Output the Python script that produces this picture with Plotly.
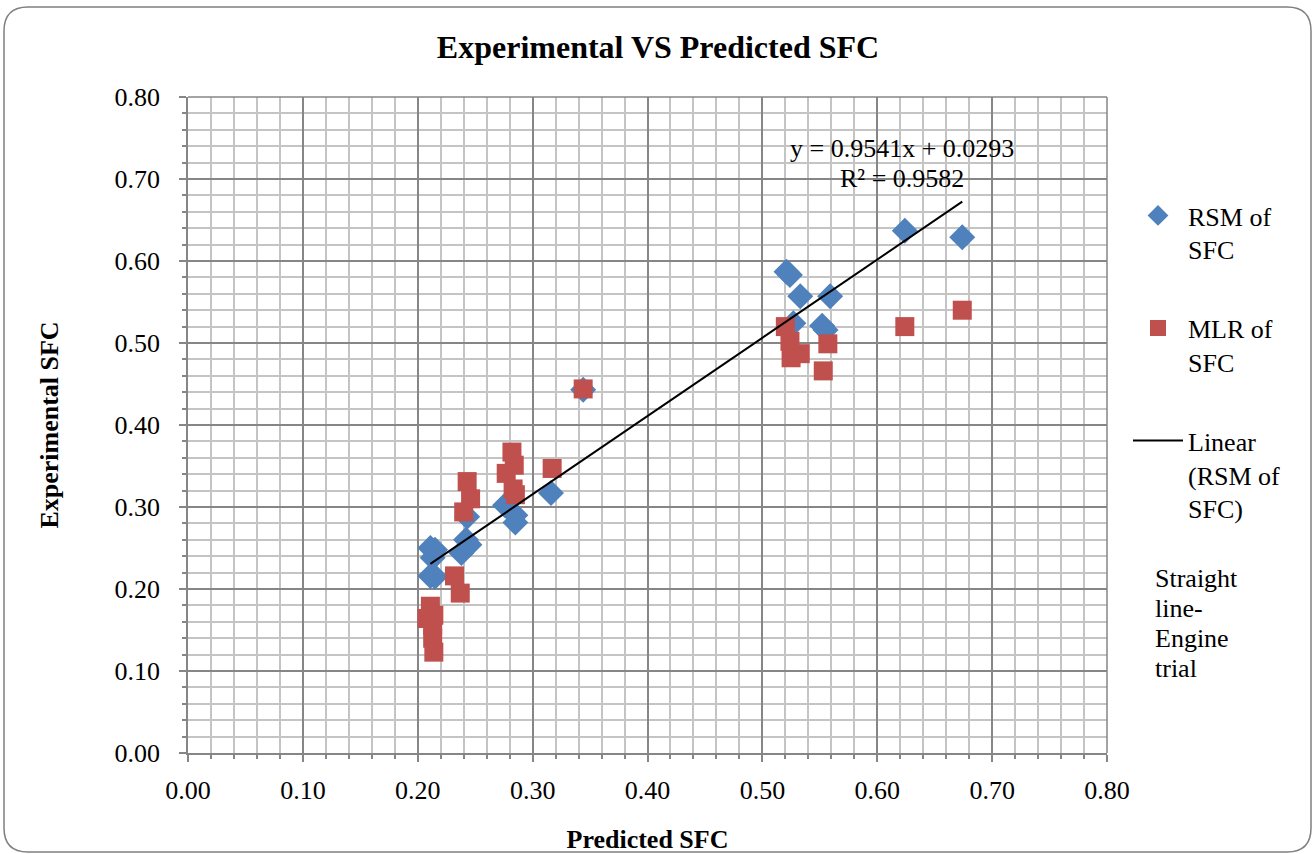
import plotly.graph_objects as go

# Data
rsm_pred = [0.211, 0.215, 0.211, 0.215, 0.213, 0.238, 0.242, 0.245, 0.243, 0.276, 0.285, 0.285,
            0.316, 0.344, 0.521, 0.524, 0.533, 0.559, 0.527, 0.552, 0.555, 0.624, 0.674]
rsm_exp = [0.250, 0.248, 0.216, 0.215, 0.238, 0.244, 0.260, 0.254, 0.288, 0.302, 0.290, 0.281,
           0.317, 0.443, 0.587, 0.583, 0.557, 0.557, 0.524, 0.521, 0.516, 0.637, 0.629]

mlr_pred = [0.208, 0.211, 0.213, 0.213, 0.214, 0.214, 0.232, 0.237, 0.243, 0.246, 0.240, 0.282,
            0.284, 0.277, 0.283, 0.285, 0.317, 0.344, 0.520, 0.524, 0.533, 0.525, 0.557, 0.553,
            0.624, 0.674]
mlr_exp = [0.164, 0.179, 0.156, 0.140, 0.123, 0.168, 0.216, 0.195, 0.331, 0.310, 0.294, 0.367,
           0.351, 0.341, 0.322, 0.315, 0.347, 0.444, 0.520, 0.502, 0.487, 0.482, 0.499, 0.466,
           0.520, 0.540]

slope = 0.9541
intercept = 0.0293
r_squared = 0.9582
trend_x = [min(rsm_pred), max(rsm_pred)]
trend_y = [slope * v + intercept for v in trend_x]

tick_vals = [0.0, 0.1, 0.2, 0.3, 0.4, 0.5, 0.6, 0.7, 0.8]
tick_text = ["0.00", "0.10", "0.20", "0.30", "0.40", "0.50", "0.60", "0.70", "0.80"]

note_lines = ["Straight", "line-", "Engine", "trial"]

FONT = "Liberation Serif, Times New Roman, serif"
FS = 26

fig = go.Figure()
fig.add_trace(go.Scatter(
    x=rsm_pred, y=rsm_exp, mode="markers", name="RSM of<br>SFC", legendgroup="a",
    marker=dict(symbol="diamond", size=20, color="#4F81BD", line=dict(width=0))))
fig.add_trace(go.Scatter(
    x=mlr_pred, y=mlr_exp, mode="markers", name="MLR of<br>SFC", legendgroup="b",
    marker=dict(symbol="square", size=19, color="#C0504D", line=dict(width=0))))
fig.add_trace(go.Scatter(
    x=trend_x, y=trend_y, mode="lines", name="Linear<br>(RSM of<br>SFC)", legendgroup="c",
    line=dict(color="black", width=2)))

W, H = 1314, 854
L, R, T, B = 188, 207, 97, 101
pw, ph = W - L - R, H - T - B

def px(x):
    return (x - L) / pw

def py(y):
    return (H - B - y) / ph

# rounded outer border
x0, x1, y0, y1, r = px(4), px(1311), py(7), py(852), 24
rx, ry = r / pw, r / ph
path = (f"M {x0+rx},{y0} L {x1-rx},{y0} Q {x1},{y0} {x1},{y0-ry} "
        f"L {x1},{y1+ry} Q {x1},{y1} {x1-rx},{y1} L {x0+rx},{y1} Q {x0},{y1} {x0},{y1+ry} "
        f"L {x0},{y0-ry} Q {x0},{y0} {x0+rx},{y0} Z")
fig.add_shape(type="path", path=path, xref="paper", yref="paper",
              line=dict(color="#7F7F7F", width=1.5), layer="below")

eq_lines = [f"y = {slope}x + {intercept}", f"R² = {r_squared}"]
for i, t in enumerate(eq_lines):
    fig.add_annotation(x=px(902), y=py(149 + 29 * i), xref="paper", yref="paper",
                       text=t, showarrow=False, xanchor="center", yanchor="middle",
                       font=dict(family=FONT, size=FS, color="black"))
for i, t in enumerate(note_lines):
    fig.add_annotation(x=px(1153), y=py(578 + 30 * i), xref="paper", yref="paper",
                       xanchor="left", yanchor="middle", text=t, showarrow=False,
                       font=dict(family=FONT, size=FS, color="black"))

axis_common = dict(
    showline=True, linecolor="#868686", linewidth=1.5,
    showgrid=True, gridcolor="#868686", gridwidth=1.5,
    ticks="outside", ticklen=7, tickcolor="#868686", tickwidth=1.5,
    tickvals=tick_vals, ticktext=tick_text,
    tickfont=dict(family=FONT, size=FS, color="black"),
    minor=dict(dtick=0.02, showgrid=True, gridcolor="#C4C4C4", gridwidth=1.5,
               ticks="outside", ticklen=4, tickcolor="#868686"),
    zeroline=False, range=[0, 0.8], mirror=False, automargin=False,
)

fig.update_layout(
    width=W, height=H,
    margin=dict(l=L, r=R, t=T, b=B),
    paper_bgcolor="white", plot_bgcolor="white",
    title=dict(text="<b>Experimental VS Predicted SFC</b>", x=658 / W, xanchor="center",
               y=1 - 47 / H, yanchor="middle",
               font=dict(family=FONT, size=32, color="black")),
    xaxis=dict(axis_common, ticklabelstandoff=6,
               title=dict(text="<b>Predicted SFC</b>", standoff=27,
                          font=dict(family=FONT, size=FS, color="black"))),
    yaxis=dict(axis_common, ticklabelstandoff=14,
               title=dict(text="<b>Experimental SFC</b>", standoff=48,
                          font=dict(family=FONT, size=FS, color="black"))),
    legend=dict(x=px(1128), y=py(192), xanchor="left", yanchor="top",
                font=dict(family=FONT, size=FS, color="black"),
                tracegroupgap=42, valign="top", bgcolor="rgba(0,0,0,0)", itemwidth=50),
    showlegend=True,
)
fig.add_shape(type="line", xref="paper", yref="paper", x0=1, x1=1, y0=0, y1=1,
              line=dict(color="#868686", width=1.5))
fig.add_shape(type="line", xref="paper", yref="paper", x0=0, x1=1, y0=1, y1=1,
              line=dict(color="#868686", width=1.5))

fig.write_html("out.html", config={"displayModeBar": False},
               post_script="document.body.style.margin='0';")
